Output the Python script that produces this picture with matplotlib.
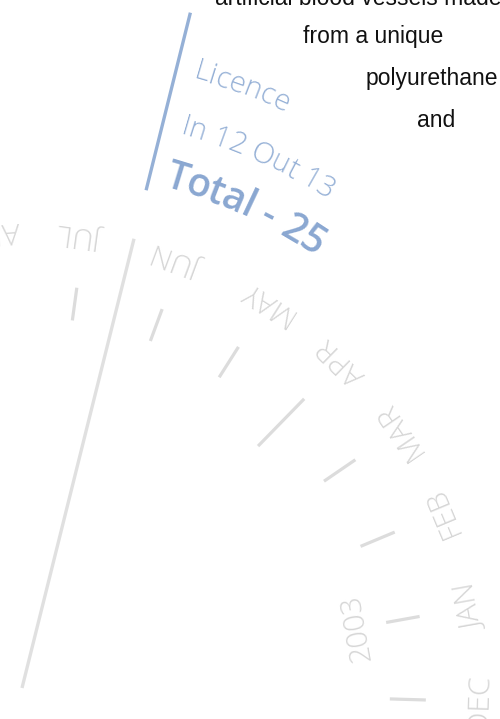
import numpy as np
import matplotlib
matplotlib.use("Agg")
import matplotlib.pyplot as plt
from matplotlib.font_manager import FontProperties
from matplotlib.textpath import TextToPath

# ---------------- data ----------------
months = ["DEC", "JAN", "FEB", "MAR", "APR", "MAY", "JUN", "JUL", "AUG"]
month_angles = [-1.7, 10.2, 22.7, 34.4, 45.7, 57.6, 69.7, 82.2, 94.1]
tick_inner = [368, 370, 367, 366, 338, 368, 370, 371, 370]
tick_outer = 404
year_label = "2003"
year_month = "JAN"

event_angle = 76.0
event_grey_r = [0, 463]
event_blue_r = [513, 696]

licence_title = "Licence"
licence_in = 12
licence_out = 13
licence_total = licence_in + licence_out

body_lines = ["artificial blood vessels made", "from a unique", "polyurethane", "and"]
body_x = [215, 303, 366, 417]
body_y = [5, 43, 85, 127]

# ---------------- layout ----------------
W, H, DPI = 500, 719, 100
CX, CY = 22, 688          # centre of the radial timeline (pixels, y down)
R = 720

fig = plt.figure(figsize=(W / DPI, H / DPI), dpi=DPI)
fig.patch.set_facecolor("white")
cy_up = H - CY
ax = fig.add_axes([(CX - R) / W, (cy_up - R) / H, 2 * R / W, 2 * R / H],
                  projection="polar")
ax.set_ylim(0, R)
ax.set_axis_off()

GREY = "#dcdcdc"
LABEL_GREY = "#d6d6d6"
BLUE = "#95b0d6"
BLUE_DARK = "#8aa7d1"
light_font = dict(family=["Open Sans", "DejaVu Sans"], weight="light")

# month ticks and labels
for m, a, ri in zip(months, month_angles, tick_inner):
    th = np.deg2rad(a)
    ax.plot([th, th], [ri, tick_outer], color=GREY, lw=2.3,
            solid_capstyle="butt")
    ax.text(th, 457, m, rotation=a + 90, rotation_mode="anchor",
            ha="center", va="center", fontsize=21.5, color=LABEL_GREY,
            **light_font)

ya = month_angles[months.index(year_month)]
ax.text(np.deg2rad(ya), 340, year_label, rotation=ya + 90,
        rotation_mode="anchor", ha="center", va="center", fontsize=21.5,
        color=LABEL_GREY, **light_font)

# event lines
the = np.deg2rad(event_angle)
ax.plot([the, the], event_grey_r, color="#e0e0e0", lw=2.4,
        solid_capstyle="butt")
ax.plot([the, the], event_blue_r, color=BLUE, lw=2.4, solid_capstyle="butt")

# text along an arc
ttp = TextToPath()


def wpx(s, fp):
    w, h, d = ttp.get_text_width_height_descent(s, fp, ismath=False)
    return w * DPI / 72.0


def arc_text(s, r, center_deg, size, color, weight="normal"):
    fp = FontProperties(family=["Open Sans", "DejaVu Sans"], size=size,
                        weight=weight)
    base = wpx("H", fp)
    starts = [wpx(s[:i] + "H", fp) - base for i in range(len(s) + 1)]
    total = starts[-1]
    for i, ch in enumerate(s):
        if ch == " ":
            continue
        c = starts[i + 1] - starts[i]
        d = starts[i] + c / 2 - total / 2
        ang = np.deg2rad(center_deg) - d / r
        ax.text(ang, r, ch, rotation=np.rad2deg(ang) - 90,
                rotation_mode="anchor", ha="center", va="baseline",
                fontsize=size, color=color,
                family=["Open Sans", "DejaVu Sans"], weight=weight)


arc_text(licence_title, 633, 69.9, 21, BLUE, weight="light")
arc_text(f"In {licence_in} Out {licence_out}", 576, 66.0, 21, BLUE,
         weight="light")
arc_text(f"Total - {licence_total}", 521, 65.0, 28, BLUE_DARK,
         weight="semibold")

# body text
for s, x, y in zip(body_lines, body_x, body_y):
    fig.text(x / W, 1 - y / H, s, ha="left", va="baseline",
             fontsize=16.5, color="#111111",
             family=["Liberation Sans", "DejaVu Sans"])

fig.savefig("out.png", dpi=DPI)
